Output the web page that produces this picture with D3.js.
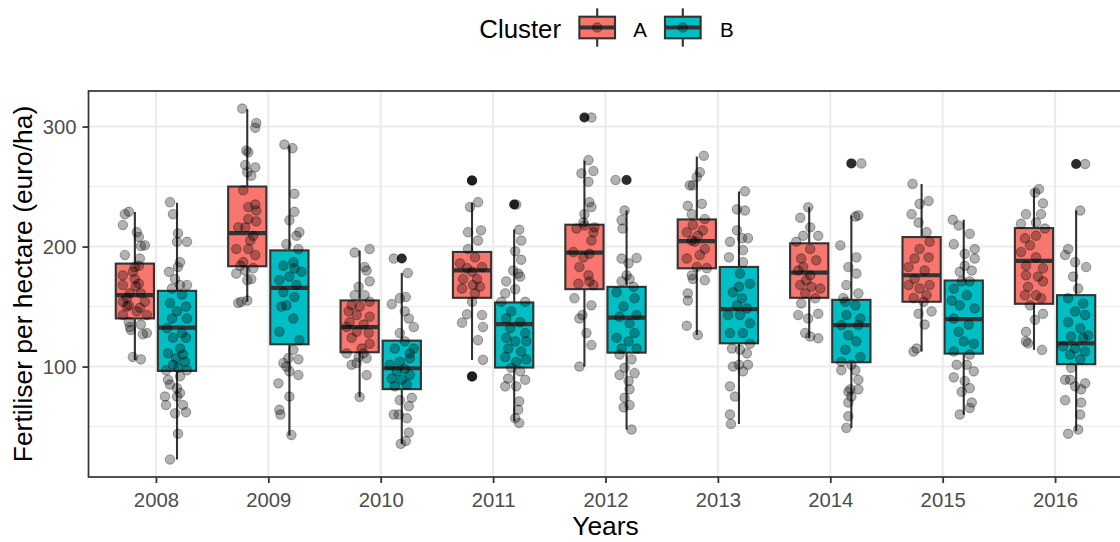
<!DOCTYPE html>
<html><head><meta charset="utf-8">
<script src="https://cdn.jsdelivr.net/npm/d3@7"></script>
<style>body{margin:0;background:#fff}svg text{font-family:"Liberation Sans",Arial,Helvetica,sans-serif}</style>
</head><body><script>
// ---------- data ----------
const years = ["2008","2009","2010","2011","2012","2013","2014","2015","2016"];
const clusters = ["A","B"];
const clusterColors = ["#F8766D","#00BFC4"];
const yTicks = [100,200,300];
const yMinorTicks = [50,150,250];

// box statistics per year (whisker low, Q1, median, Q3, whisker high)
const A_lo  = [105.5,154,74.6,105.5,100,126.3,123.6,112.5,113.9];
const A_q1  = [140.1,183.6,111.9,157.3,164.5,181.9,157.3,154,152.3];
const A_med = [159.5,211.2,132.9,180.2,194.9,204.6,178.3,176.1,188];
const A_q3  = [185.8,250,155.1,195.5,218.2,222.6,202.7,207.9,215.4];
const A_hi  = [228.7,314.4,196.8,236.4,271.5,275.1,232.8,252.2,248];
const B_lo  = [22.6,42.5,35.6,54.4,47.5,52.2,48.9,59.9,46.1];
const B_q1  = [96.4,118.6,81.2,99.2,111.6,119.4,103.6,110.8,102];
const B_med = [132.4,165.6,98.6,135.4,140.7,147.9,134.6,139.6,119.4];
const B_q3  = [163.1,196.8,121.6,153.4,166.4,183,155.6,171.7,159.5];
const B_hi  = [236.4,284,178,214.3,230,245.8,225.9,222.3,230];
const A_out = [[],[],[],[255,91.8],[307.5],[],[],[],[]];
const B_out = [[],[],[190],[235],[255.5],[],[269.3],[],[268.8]];

// observations: [value, jitter (-1..1)]
const A2008 = [[229,-0.3],[227,-0.5],[218,-0.6],[212,0.1],[208,0.2],[201,0.5],[200.5,0.3],[193,-0.5],[190,0.25],[184,0.2],[183,0],[179,-0.1],[176,-0.6],[173,0],[168,-0.6],[169,0.2],[161,-0.25],[161,0.3],[157,-0.4],[154,0.5],[154,-0.6],[151,-0.3],[149,0.25],[146,0.1],[143,0.6],[143,-0.6],[137,-0.3],[133,-0.25],[135,0.3],[128,0.6],[127,0.4],[130.5,-0.2],[108,-0.1],[106,0.3],[167,0.05],[150,-0.4]];
const B2008 = [[237,-0.35],[227,-0.2],[211,0.05],[204,0],[204,0.5],[187,0.15],[183,0.05],[179,-0.4],[173,-0.1],[168,0.15],[168,0.5],[165,-0.25],[160,0.25],[153,-0.35],[150,0.45],[146,0],[140,0.5],[132,-0.5],[128,0.25],[124,-0.2],[124,0.45],[115,0.15],[111,-0.45],[107,-0.05],[104,0.4],[101.5,-0.2],[99,0.05],[97,0.5],[97,-0.55],[89,-0.45],[92,0.15],[85,-0.35],[82,0],[78,0.15],[75,-0.6],[75,0],[68,-0.55],[68,0.3],[62,0.45],[61,-0.1],[44,0.05],[22.6,-0.35],[110,0.3],[140,-0.25]];
const A2009 = [[315,-0.25],[303,0.45],[299,0.4],[280,-0.05],[278.5,0.05],[268,-0.1],[266,0.4],[262,0],[259,0.2],[247,-0.2],[235,0.4],[233,0.05],[230,0.45],[223,0.05],[221,0.45],[216,-0.1],[216,-0.45],[209,0.3],[205,0.15],[198,-0.55],[198,0.05],[193,0.4],[187,-0.2],[184,-0.35],[182,0.3],[177.5,-0.55],[180,-0.1],[172,0],[173,0.2],[153,-0.45],[155,0],[154,-0.3]];
const B2009 = [[285,-0.25],[282,0.15],[244,0.25],[229,0.25],[222,0],[212,0.5],[209,0.35],[202,-0.15],[198,0.45],[187,0.2],[184,-0.3],[182,0.25],[175,0],[172,-0.5],[168,0.35],[162,-0.3],[158,0.25],[151,-0.15],[150,-0.4],[140,0.2],[129,-0.5],[122,0.5],[114,0.2],[103,-0.3],[100,-0.15],[106,0.45],[96,0],[93,0.45],[86,-0.55],[75,0],[64,-0.5],[60,-0.45],[43,0.1],[107,-0.05],[179,0.6]];
const A2010 = [[195,-0.25],[198,0.5],[183,0.25],[180,0.35],[166.5,-0.05],[171,0.5],[159.5,-0.25],[159.5,0.25],[151,-0.4],[154,0.5],[146,-0.55],[150,0],[143,-0.15],[141.6,0.5],[137,-0.5],[135,0.2],[133,-0.65],[128,0.45],[129,-0.15],[124,-0.4],[119,0.5],[115,0.1],[111,-0.65],[108,-0.05],[101.5,-0.4],[103,-0.15],[93,0.35],[74.6,0],[111,0.2],[107,0.35]];
const B2010 = [[190,-0.4],[178,0.3],[157,-0.1],[158,0.2],[152,-0.5],[146,0.15],[140,0.35],[133,0.6],[128,-0.1],[121,0.15],[115,-0.35],[111,0.4],[107,0.4],[104,-0.1],[101.5,-0.6],[98,0.15],[96,-0.25],[93,0.4],[90,-0.5],[89,0],[85,0.25],[83.5,-0.35],[74,0.5],[72,-0.1],[67,0.35],[60,-0.4],[57,0.25],[60,-0.15],[45,0.35],[38,0.2],[35.6,-0.05],[115,0.6]];
const A2011 = [[255,0],[237,0.3],[233,-0.1],[213.5,0.45],[212,-0.2],[205,0.3],[198,-0.2],[191,0.15],[186,-0.6],[182,-0.25],[183,0.5],[179,0],[173,-0.45],[173,0.25],[165,-0.5],[166.5,0.4],[161,0.15],[154,0],[143.5,-0.25],[143,0.5],[136.6,-0.5],[133,0.55],[122,0.3],[105.6,0.55],[168,0.05],[91.8,0]];
const B2011 = [[235,0.1],[214,0.25],[205,0.35],[196,0.05],[189,0.35],[180,-0.05],[177.5,0.2],[171,-0.4],[164.5,0.05],[161,-0.45],[154,0.55],[146,-0.15],[140,-0.4],[137,0.3],[132,-0.2],[128,0.55],[121,0.05],[115,-0.3],[112.5,0.35],[108,-0.45],[104,0.1],[106,0.6],[99,-0.15],[96,0.3],[90,-0.3],[89,0.55],[83.5,-0.45],[83.5,0.1],[71,0.25],[64,0.2],[57,0.05],[53,0.25],[121,0.6],[124,-0.4],[154,-0.65],[175,0.3]];
const A2012 = [[307.5,0.35],[272,0.2],[261,-0.15],[263,0.45],[254,0.2],[237,0.25],[233,0.35],[227,0],[220,-0.05],[212,0.45],[215,-0.4],[205,0.35],[195.5,-0.55],[191,-0.05],[194,0.25],[183,-0.25],[176,0.2],[171,0.25],[169,-0.3],[168,0.45],[157,-0.5],[151,0.35],[143,-0.1],[140,-0.25],[128,0.1],[118,0.35],[100,-0.25],[217.6,0],[216,0.5]];
const B2012 = [[255.5,-0.55],[230,-0.1],[222,-0.25],[215,-0.2],[190.5,0.5],[190,-0.25],[186,0.1],[176,0],[173,0.15],[171,-0.25],[166.5,0.35],[162,-0.5],[157,0.4],[150,-0.15],[143,0.5],[141.6,-0.35],[136,0.15],[128,0.4],[124,-0.5],[121,0.1],[115,-0.25],[115,0.5],[110,-0.35],[106,0.25],[99,-0.1],[94.5,0.4],[93,-0.35],[88,0.1],[81,0.15],[74,-0.1],[68,0.15],[66,-0.15],[47.5,0.25]];
const A2013 = [[275.7,0.35],[262,0.15],[258,0],[251,-0.35],[251,-0.2],[234,-0.45],[235.6,0.25],[227,-0.25],[223,0.4],[218,-0.2],[213.5,0.3],[212,-0.5],[209,0.05],[205,-0.25],[198,0.4],[190,-0.5],[193,0.15],[183,0],[182,0.5],[176,-0.25],[172,0.4],[173,-0.2],[161,-0.45],[155,-0.45],[134,-0.5],[126.3,0.05],[204,-0.1]];
const B2013 = [[246,0.3],[231,-0.1],[230,0.3],[213.5,-0.1],[204,-0.45],[207,0.15],[207,0.45],[197,0.2],[191,-0.5],[187,0.2],[177.5,0.05],[169,0.55],[162,-0.3],[166.5,0],[157,0.15],[151,-0.1],[148.5,0.4],[143,-0.55],[143,0.05],[136,0.55],[128,-0.45],[128,0.2],[119,0.55],[115,-0.35],[114,0.05],[111,0.4],[100,-0.3],[101.5,0.45],[96,0.2],[83.5,-0.45],[75,-0.2],[60,-0.45],[52.2,-0.4],[101.5,0]];
const A2014 = [[232.8,-0.05],[224,-0.45],[216,0.05],[209,-0.3],[209,0.45],[204,-0.65],[198,0.05],[190,-0.4],[188.6,0.35],[183,-0.3],[180,-0.55],[176,0.05],[168,-0.45],[165,0.55],[161,-0.2],[157,0.3],[152.6,-0.4],[143,-0.55],[144,0.45],[140,-0.05],[128,-0.2],[125,0.05],[123.6,0.45],[166.5,0.1],[172,-0.15]];
const B2014 = [[269.3,0.5],[226,0.35],[225,0.2],[201,-0.55],[191,0.25],[183,-0.15],[177.5,0.25],[168,-0.25],[161,0.35],[157,-0.4],[151,0.2],[143,-0.25],[140,0.45],[134.6,-0.5],[134.6,0.35],[126,-0.15],[121,0.25],[114,-0.3],[108,0.45],[104,-0.5],[101.5,0],[97,-0.5],[97,0.2],[89,0.35],[81,-0.05],[81,0.35],[75,0],[70,-0.15],[58.6,-0.15],[48.9,-0.25],[79,-0.15],[154,-0.3]];
const A2015 = [[252.2,-0.45],[235.6,-0.1],[238,0.35],[227,-0.5],[220,-0.15],[212,0.25],[204,0.4],[198,-0.1],[190,-0.35],[191,0.35],[183,-0.65],[180,0.15],[173,-0.35],[168,0.4],[168,-0.65],[165,-0.1],[159.5,0.25],[157,-0.4],[154,0.1],[144,-0.15],[146,0.5],[135,0.15],[115,-0.25],[112.5,-0.4]];
const B2015 = [[222.3,-0.55],[217.6,-0.25],[210.7,0.3],[202,-0.5],[194,0.05],[198,0.55],[190,0.55],[184,0.05],[179,-0.2],[180,0.4],[171,0.3],[165,-0.5],[159.5,0.15],[151,-0.2],[148.5,0.55],[140,-0.5],[135,0.25],[129,-0.25],[121,0],[119,0.5],[112.5,-0.5],[110,0.3],[101.5,-0.35],[101.5,0.15],[96,0.5],[91,-0.5],[88,0.05],[82,0.3],[79,-0.1],[70,0.4],[65.5,0.3],[60,-0.2],[171,-0.1],[155,-0.6]];
const A2016 = [[248,0.25],[245,0.05],[236,0.45],[227,0.35],[227,-0.4],[220,0.1],[219,-0.65],[215,0.55],[207,-0.45],[209,0.1],[201,-0.2],[195.5,-0.65],[191,0.1],[184,-0.4],[182,0.45],[175,0.2],[176,-0.4],[171,0.45],[166.5,-0.3],[159.5,0.1],[159.5,-0.45],[157,0.35],[151,-0.2],[144,0.45],[139,0.05],[129,-0.4],[121,-0.4],[119.4,-0.3],[113.9,0.4]];
const B2016 = [[268.8,0.45],[230,0.2],[198,-0.4],[193,-0.55],[187,-0.05],[183,0.5],[175,-0.15],[165,0.1],[157,-0.4],[152.6,0.35],[146,-0.05],[143,0.45],[137,-0.4],[132,0.2],[125,-0.25],[124,0.35],[117,-0.65],[115,-0.05],[112.5,0.45],[110,-0.3],[106,0.2],[89,-0.55],[89,-0.3],[86,0.45],[83.5,-0.05],[81,0.25],[72,-0.55],[70,0.25],[60,0.2],[47.5,0.1],[44,-0.4],[99,-0.25],[126,0.6]];

const pointsA = [A2008,A2009,A2010,A2011,A2012,A2013,A2014,A2015,A2016];
const pointsB = [B2008,B2009,B2010,B2011,B2012,B2013,B2014,B2015,B2016];

// ---------- build ----------
const W = 1120, H = 542;
const P = {left: 88.5, right: 1122.5, top: 91, bottom: 477};
const FONT_TITLE = 26.4, FONT_TICK = 20.3;
const INK = "#333333";
const LW = 2.1, MEDW = 4.2, PR = 4.7;

const stats = [
  {lo:A_lo,q1:A_q1,med:A_med,q3:A_q3,hi:A_hi,out:A_out,pts:pointsA},
  {lo:B_lo,q1:B_q1,med:B_med,q3:B_q3,hi:B_hi,out:B_out,pts:pointsB}
];

const allVals = [];
stats.forEach(s => { s.pts.forEach(g => g.forEach(p => allVals.push(p[0]))); s.lo.forEach(v=>allVals.push(v)); s.hi.forEach(v=>allVals.push(v)); });
const ext = d3.extent(allVals), span = ext[1]-ext[0];

const x = d3.scalePoint().domain(years).range([P.left, P.right]).padding(0.6);
const step = x.step();
const y = d3.scaleLinear().domain([ext[0]-0.05*span, ext[1]+0.05*span]).range([P.bottom, P.top]);
const color = d3.scaleOrdinal().domain(clusters).range(clusterColors);
const dodge = d3.scaleOrdinal().domain(clusters).range([-0.1875, 0.1875]);
const boxW = 0.34*step, jitW = 0.178*step;

const svg = d3.select("body").append("svg").attr("width", W).attr("height", H);
svg.append("defs").append("clipPath").attr("id","clip")
  .append("rect").attr("x",P.left).attr("y",P.top).attr("width",P.right-P.left).attr("height",P.bottom-P.top);

const panel = svg.append("g").attr("clip-path","url(#clip)");
panel.append("rect").attr("x",P.left).attr("y",P.top).attr("width",P.right-P.left).attr("height",P.bottom-P.top).attr("fill","#fff");

// grid
panel.selectAll(".gmin").data(yMinorTicks).join("line")
  .attr("x1",P.left).attr("x2",P.right).attr("y1",d=>y(d)).attr("y2",d=>y(d))
  .attr("stroke","#EBEBEB").attr("stroke-width",1.1);
panel.selectAll(".gmaj").data(yTicks).join("line")
  .attr("x1",P.left).attr("x2",P.right).attr("y1",d=>y(d)).attr("y2",d=>y(d))
  .attr("stroke","#EBEBEB").attr("stroke-width",2.1);
panel.selectAll(".gx").data(years).join("line")
  .attr("x1",d=>x(d)).attr("x2",d=>x(d)).attr("y1",P.top).attr("y2",P.bottom)
  .attr("stroke","#EBEBEB").attr("stroke-width",2.1);

// boxplots
const boxes = [];
clusters.forEach((c,ci) => years.forEach((yr,i) => {
  const s = stats[ci];
  boxes.push({c, yr, cx: x(yr)+dodge(c)*step, lo:s.lo[i], q1:s.q1[i], med:s.med[i], q3:s.q3[i], hi:s.hi[i], out:s.out[i], pts:s.pts[i]});
}));

const bg = panel.append("g");
boxes.forEach(b => {
  const g = bg.append("g");
  g.append("line").attr("x1",b.cx).attr("x2",b.cx).attr("y1",y(b.hi)).attr("y2",y(b.q3)).attr("stroke",INK).attr("stroke-width",LW);
  g.append("line").attr("x1",b.cx).attr("x2",b.cx).attr("y1",y(b.q1)).attr("y2",y(b.lo)).attr("stroke",INK).attr("stroke-width",LW);
  g.append("rect").attr("x",b.cx-boxW/2).attr("y",y(b.q3)).attr("width",boxW).attr("height",y(b.q1)-y(b.q3))
    .attr("fill",color(b.c)).attr("stroke",INK).attr("stroke-width",LW);
  g.append("line").attr("x1",b.cx-boxW/2).attr("x2",b.cx+boxW/2).attr("y1",y(b.med)).attr("y2",y(b.med))
    .attr("stroke",INK).attr("stroke-width",MEDW);
  g.selectAll("circle").data(b.out).join("circle")
    .attr("cx",b.cx).attr("cy",d=>y(d)).attr("r",PR+0.3).attr("fill","#2B2B2B");
});

// jittered points
const pg = panel.append("g");
boxes.forEach(b => {
  pg.selectAll(null).data(b.pts).join("circle")
    .attr("cx",d=>b.cx + d[1]*jitW).attr("cy",d=>y(d[0])).attr("r",PR)
    .attr("fill","#000").attr("fill-opacity",0.3)
    .attr("stroke","#000").attr("stroke-opacity",0.3).attr("stroke-width",1.2);
});

// panel border
svg.append("rect").attr("x",P.left).attr("y",P.top).attr("width",P.right-P.left).attr("height",P.bottom-P.top)
  .attr("fill","none").attr("stroke",INK).attr("stroke-width",1.7);

// axes
const yAxis = svg.append("g").attr("transform",`translate(${P.left},0)`)
  .call(d3.axisLeft(y).tickValues(yTicks).tickSize(6).tickPadding(6));
const xAxis = svg.append("g").attr("transform",`translate(0,${P.bottom})`)
  .call(d3.axisBottom(x).tickSize(6).tickPadding(9.3));
[yAxis,xAxis].forEach(a => {
  a.select(".domain").remove();
  a.selectAll(".tick line").attr("stroke",INK).attr("stroke-width",1.8);
  a.selectAll(".tick text").attr("fill","#4D4D4D").style("font-size",FONT_TICK+"px");
});

// titles
svg.append("text").attr("x",(P.left+P.right)/2).attr("y",535).attr("text-anchor","middle")
  .style("font-size",FONT_TITLE+"px").attr("fill","#000").text("Years");
svg.append("text").attr("transform",`translate(32,${(P.top+P.bottom)/2}) rotate(-90)`).attr("text-anchor","middle")
  .style("font-size",FONT_TITLE+"px").attr("fill","#000").text("Fertiliser per hectare (euro/ha)");

// legend
const lg = svg.append("g");
lg.append("text").attr("x",479.3).attr("y",38.3).style("font-size","25.8px").attr("fill","#000").text("Cluster");
const keyX = d3.scaleOrdinal().domain(clusters).range([597.2, 682.8]);
const labX = d3.scaleOrdinal().domain(clusters).range([633.3, 720]);
clusters.forEach(c => {
  const kx = keyX(c), kw = 35.7;
  lg.append("line").attr("x1",kx).attr("x2",kx).attr("y1",8.3).attr("y2",46.7).attr("stroke",INK).attr("stroke-width",LW);
  lg.append("rect").attr("x",kx-kw/2).attr("y",16.7).attr("width",kw).attr("height",21.6)
    .attr("fill",color(c)).attr("stroke",INK).attr("stroke-width",LW);
  lg.append("line").attr("x1",kx-kw/2).attr("x2",kx+kw/2).attr("y1",27.5).attr("y2",27.5).attr("stroke",INK).attr("stroke-width",MEDW);
  lg.append("circle").attr("cx",kx).attr("cy",27.5).attr("r",PR)
    .attr("fill","#000").attr("fill-opacity",0.3).attr("stroke","#000").attr("stroke-opacity",0.3).attr("stroke-width",1.2);
  lg.append("text").attr("x",labX(c)).attr("y",36.7).style("font-size","20.5px").attr("fill","#000").text(c);
});
</script></body></html>
